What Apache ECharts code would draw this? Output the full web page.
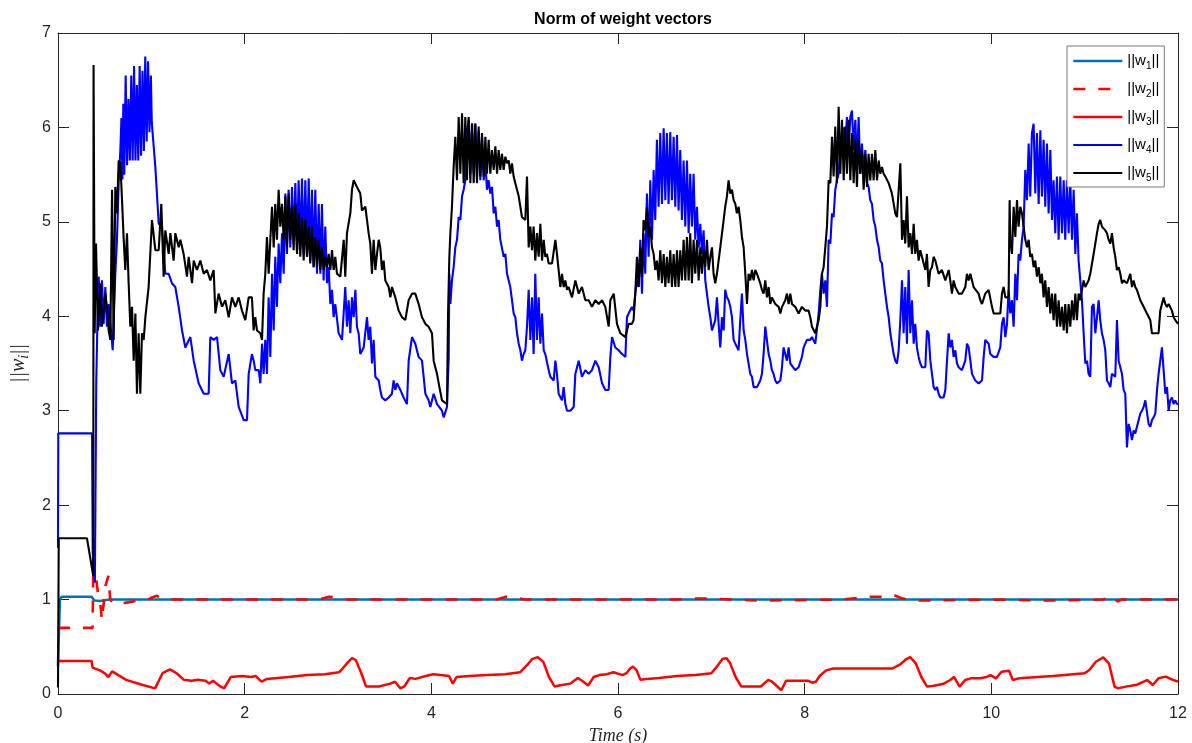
<!DOCTYPE html>
<html>
<head>
<meta charset="utf-8">
<script src="https://cdn.jsdelivr.net/npm/echarts@6/dist/echarts.min.js"></script>
<style>
  html, body { margin: 0; padding: 0; background: #fff; }
  #chart { width: 1192px; height: 743px; }
</style>
</head>
<body>
<div id="chart"></div>
<script>
// axis ticks
const xTicks = [0, 2, 4, 6, 8, 10, 12]
const yTicks = [0, 1, 2, 3, 4, 5, 6, 7]

const seriesNames = ['||w1||', '||w2||', '||w3||', '||w4||', '||w5||']

// [time (s), norm]
const w1Pts = [[0,0.3],[0.02,1.0],[0.04,1.03],[0.36,1.03],[0.39,0.99],[0.45,0.985],[0.55,1.0],[3,1.0],[6,1.0],[9,1.0],[12,1.0]]

const w2Pts = [[0,0.7],[0.37,0.7],[0.38,1.43],[0.4,1.3],[0.43,1.05],[0.45,1.0],[0.47,0.78],[0.49,0.8],[0.51,1.15],[0.54,1.25],[0.56,1.0],
  [0.6,0.95],[0.68,0.96],[0.75,0.97],[0.85,0.99],[0.95,0.99],[1.0,1.02],[1.06,1.04],[1.12,1.0],[1.5,1.0],[2.8,1.0],[2.9,1.03],[3.0,1.02],
  [3.1,1.0],[4.7,1.0],[4.8,1.03],[4.9,1.02],[5.0,1.0],[6.6,1.0],[6.8,1.01],[7.0,1.01],[7.5,0.99],[8.4,1.0],[8.7,1.03],[8.85,1.03],
  [8.95,1.05],[9.05,1.01],[9.2,0.99],[10.0,1.0],[10.6,0.99],[11.2,1.0],[11.3,1.04],[11.35,0.98],[11.4,1.0],[12,1.0]]

const w3Pts = [[0,0.35],[0.36,0.35],[0.37,0.28],[0.45,0.25],[0.5,0.22],[0.54,0.18],[0.58,0.24],[0.73,0.15],[0.89,0.1],[1.04,0.06],
  [1.06,0.05],[1.12,0.22],[1.2,0.26],[1.27,0.22],[1.35,0.15],[1.43,0.14],[1.5,0.15],[1.58,0.14],[1.62,0.11],[1.66,0.14],[1.74,0.08],
  [1.78,0.06],[1.85,0.18],[1.97,0.19],[2.07,0.18],[2.12,0.19],[2.18,0.13],[2.24,0.16],[2.47,0.18],[2.67,0.2],[2.86,0.21],[3.01,0.23],
  [3.05,0.27],[3.11,0.34],[3.15,0.38],[3.19,0.36],[3.25,0.22],[3.3,0.08],[3.36,0.08],[3.44,0.08],[3.56,0.11],[3.61,0.13],[3.67,0.06],
  [3.71,0.08],[3.77,0.17],[3.83,0.16],[3.94,0.19],[4.02,0.21],[4.1,0.2],[4.19,0.19],[4.23,0.11],[4.27,0.18],[4.41,0.19],[4.6,0.2],
  [4.79,0.21],[4.95,0.23],[5.03,0.31],[5.08,0.37],[5.14,0.39],[5.2,0.34],[5.26,0.18],[5.32,0.08],[5.37,0.09],[5.49,0.11],[5.57,0.17],
  [5.63,0.13],[5.68,0.09],[5.74,0.18],[5.8,0.2],[5.88,0.21],[5.95,0.23],[6.05,0.2],[6.09,0.22],[6.13,0.27],[6.16,0.29],[6.2,0.25],
  [6.24,0.15],[6.28,0.155],[6.44,0.17],[6.63,0.19],[6.83,0.2],[7.0,0.22],[7.06,0.29],[7.12,0.37],[7.16,0.38],[7.2,0.33],[7.26,0.18],
  [7.32,0.08],[7.41,0.08],[7.53,0.08],[7.61,0.15],[7.65,0.13],[7.69,0.095],[7.75,0.04],[7.8,0.14],[7.92,0.14],[8.04,0.14],[8.08,0.12],
  [8.12,0.13],[8.16,0.19],[8.23,0.25],[8.31,0.27],[8.5,0.27],[8.7,0.27],[8.94,0.27],[9.02,0.31],[9.09,0.37],[9.13,0.39],[9.19,0.325],
  [9.25,0.18],[9.31,0.08],[9.37,0.085],[9.48,0.105],[9.56,0.148],[9.6,0.18],[9.66,0.078],[9.72,0.148],[9.78,0.166],[9.88,0.166],
  [9.95,0.18],[9.99,0.2],[10.05,0.166],[10.11,0.236],[10.19,0.247],[10.23,0.148],[10.3,0.166],[10.66,0.19],[11.0,0.219],[11.05,0.254],
  [11.12,0.342],[11.2,0.388],[11.26,0.325],[11.32,0.078],[11.36,0.06],[11.44,0.078],[11.55,0.095],[11.67,0.148],[11.73,0.095],
  [11.79,0.166],[11.87,0.184],[11.95,0.148],[12,0.131]]

const w4Pts = [[0,1.55],[0.003,2.76],[0.365,2.76],[0.372,1.5],[0.395,1.18],[0.4,1.2],[0.41,3.3],[0.42,3.82],
  [0.436,4.42],[0.454,3.89],[0.471,4.38],[0.489,3.92],[0.507,4.31],[0.525,3.89],[0.543,4.13],[0.561,3.92],[0.586,3.64],[0.614,4.45],
  [0.632,4.81],[0.65,5.41],[0.668,5.76],[0.68,6.1],[0.69,5.45],[0.7,6.25],[0.71,5.5],[0.725,6.55],[0.74,5.6],[0.755,6.3],[0.77,5.65],
  [0.785,6.55],[0.8,5.65],[0.815,6.65],[0.83,5.65],[0.845,6.45],[0.86,5.65],[0.875,6.65],[0.89,5.7],[0.905,6.6],[0.92,5.75],[0.935,6.75],
  [0.95,5.85],[0.965,6.7],[0.98,5.95],[0.995,6.55],[1.005,6.05],[1.043,5.58],[1.079,4.98],[1.114,4.95],[1.15,4.45],[1.186,4.45],
  [1.221,4.35],[1.257,4.31],[1.293,4.1],[1.329,3.85],[1.364,3.67],[1.418,3.78],[1.454,3.53],[1.507,3.29],[1.561,3.18],[1.614,3.18],
  [1.632,3.78],[1.668,3.75],[1.704,3.78],[1.739,3.43],[1.775,3.36],[1.829,3.6],[1.864,3.29],[1.9,3.32],[1.936,3.04],[1.99,2.9],[2.025,2.9],
  [2.043,3.39],[2.078,3.6],[2.096,3.53],[2.114,3.43],[2.15,3.43],[2.168,3.29],[2.186,3.71],[2.203,3.39],[2.221,3.75],[2.239,3.39],
  [2.257,4.2],[2.275,3.57],[2.293,4.45],[2.311,3.85],[2.328,4.63],[2.346,4.1],[2.364,4.77],[2.382,4.35],[2.4,4.88],[2.418,4.45],
  [2.436,5.3],[2.453,4.66],[2.471,5.34],[2.489,4.73],[2.507,5.37],[2.525,4.77],[2.543,5.41],[2.561,4.7],[2.578,5.44],[2.596,4.73],
  [2.614,5.46],[2.632,4.66],[2.65,5.44],[2.668,4.63],[2.686,5.46],[2.703,4.59],[2.721,5.34],[2.739,4.52],[2.757,5.34],[2.775,4.45],
  [2.793,5.19],[2.811,4.45],[2.828,5.19],[2.846,4.38],[2.864,4.95],[2.882,4.35],[2.9,4.52],[2.918,4.13],[2.936,4.28],[2.953,3.99],
  [2.971,4.13],[3.007,3.82],[3.043,3.75],[3.078,4.31],[3.096,3.89],[3.114,4.17],[3.132,3.82],[3.15,4.2],[3.168,3.99],[3.186,4.28],
  [3.203,3.89],[3.221,3.82],[3.239,3.6],[3.275,3.67],[3.311,3.99],[3.328,3.75],[3.346,3.89],[3.364,3.5],[3.382,3.75],[3.4,3.36],
  [3.436,3.32],[3.453,3.22],[3.471,3.14],[3.507,3.11],[3.543,3.14],[3.578,3.18],[3.596,3.32],[3.614,3.22],[3.632,3.29],[3.668,3.22],
  [3.703,3.14],[3.739,3.07],[3.757,3.53],[3.793,3.78],[3.828,3.71],[3.864,3.57],[3.9,3.53],[3.936,3.18],[3.971,3.11],[3.989,3.04],
  [4.025,3.18],[4.061,3.07],[4.079,3.07],[4.114,3.0],[4.132,2.93],[4.168,3.04],[4.186,3.57],[4.193,4.45],[4.204,4.13],[4.221,4.38],
  [4.239,4.52],[4.257,4.73],[4.275,4.81],[4.293,5.05],[4.311,5.02],[4.329,5.27],[4.346,5.34],[4.364,5.44],[4.382,5.97],[4.4,6.08],
  [4.418,5.51],[4.436,6.04],[4.454,5.51],[4.471,6.04],[4.489,5.48],[4.507,5.97],[4.525,5.44],[4.543,5.9],[4.561,5.44],[4.579,5.65],
  [4.596,5.34],[4.614,5.44],[4.632,5.3],[4.65,5.37],[4.668,5.09],[4.686,5.16],[4.704,4.95],[4.721,5.02],[4.739,4.81],[4.757,4.81],
  [4.775,4.63],[4.793,4.66],[4.811,4.45],[4.829,4.45],[4.846,4.31],[4.864,4.17],[4.882,4.03],[4.9,3.99],[4.918,3.82],[4.936,3.71],
  [4.954,3.64],[4.971,3.53],[4.989,3.6],[5.007,3.64],[5.025,3.89],[5.043,4.28],[5.061,3.75],[5.079,4.2],[5.096,3.6],[5.114,4.45],
  [5.132,3.75],[5.15,4.2],[5.168,3.71],[5.186,4.03],[5.204,3.64],[5.221,3.6],[5.257,3.43],[5.275,3.36],[5.311,3.32],[5.329,3.53],
  [5.346,3.39],[5.364,3.18],[5.4,3.11],[5.418,3.25],[5.436,3.07],[5.454,3.0],[5.489,3.0],[5.525,3.04],[5.543,3.39],[5.561,3.46],
  [5.579,3.53],[5.614,3.36],[5.65,3.43],[5.686,3.39],[5.721,3.43],[5.757,3.53],[5.793,3.46],[5.829,3.29],[5.864,3.22],[5.9,3.22],
  [5.918,3.57],[5.936,3.78],[5.971,3.67],[6.007,3.64],[6.043,3.6],[6.079,3.57],[6.096,3.99],[6.114,4.03],[6.149,4.1],[6.167,4.06],
  [6.185,4.24],[6.203,4.38],[6.221,4.31],[6.239,4.81],[6.257,4.24],[6.274,4.88],[6.292,4.45],[6.31,5.3],[6.328,4.63],[6.346,5.44],
  [6.364,4.81],[6.382,5.55],[6.399,5.02],[6.417,5.87],[6.435,5.16],[6.453,5.94],[6.471,5.19],[6.489,5.99],[6.507,5.23],[6.524,5.94],
  [6.542,5.19],[6.56,5.95],[6.578,5.23],[6.596,5.9],[6.614,5.16],[6.632,5.92],[6.649,5.12],[6.667,5.76],[6.685,5.02],[6.703,5.65],
  [6.721,4.95],[6.739,5.65],[6.757,4.88],[6.774,5.51],[6.792,4.95],[6.81,5.51],[6.828,4.81],[6.846,5.16],[6.864,4.73],[6.882,4.98],
  [6.899,4.66],[6.917,4.91],[6.935,4.38],[6.953,4.24],[6.971,4.1],[6.989,3.99],[7.007,3.85],[7.024,3.85],[7.042,3.96],[7.06,4.2],
  [7.078,3.92],[7.096,3.67],[7.114,3.99],[7.132,3.85],[7.149,4.28],[7.167,4.2],[7.185,4.17],[7.203,4.1],[7.221,3.99],[7.239,3.75],
  [7.257,3.71],[7.292,3.64],[7.31,3.96],[7.328,4.24],[7.346,3.85],[7.364,3.75],[7.382,3.6],[7.399,3.5],[7.417,3.39],[7.435,3.36],
  [7.453,3.25],[7.489,3.25],[7.524,3.32],[7.542,3.39],[7.56,3.6],[7.578,3.89],[7.596,3.89],[7.614,3.6],[7.632,3.53],[7.649,3.43],
  [7.667,3.39],[7.685,3.32],[7.703,3.29],[7.739,3.32],[7.757,3.46],[7.774,3.67],[7.792,3.67],[7.81,3.53],[7.828,3.67],[7.846,3.5],
  [7.864,3.5],[7.899,3.43],[7.935,3.46],[7.971,3.57],[7.989,3.67],[8.024,3.75],[8.06,3.75],[8.078,3.78],[8.114,3.71],[8.15,4.03],
  [8.168,4.28],[8.185,4.45],[8.203,4.24],[8.221,4.38],[8.239,4.1],[8.257,4.81],[8.275,4.77],[8.293,5.09],[8.31,5.05],[8.328,5.34],
  [8.346,5.44],[8.364,5.51],[8.382,5.76],[8.4,5.69],[8.418,6.0],[8.435,5.8],[8.453,6.11],[8.471,5.76],[8.489,6.11],[8.507,6.18],
  [8.525,5.76],[8.543,6.08],[8.56,5.58],[8.578,6.11],[8.596,5.51],[8.614,5.83],[8.632,5.51],[8.65,5.76],[8.668,5.41],[8.685,5.37],
  [8.703,5.23],[8.721,5.19],[8.739,5.02],[8.757,4.95],[8.775,4.81],[8.793,4.73],[8.81,4.59],[8.828,4.56],[8.846,4.38],[8.864,4.24],
  [8.882,4.1],[8.9,3.99],[8.918,3.82],[8.935,3.71],[8.953,3.6],[8.971,3.53],[8.989,3.5],[9.007,3.64],[9.025,3.96],[9.043,4.38],
  [9.06,3.82],[9.078,4.31],[9.096,3.71],[9.114,4.49],[9.132,3.82],[9.15,4.17],[9.168,3.71],[9.185,3.92],[9.203,3.67],[9.221,3.57],
  [9.239,3.5],[9.257,3.46],[9.293,3.46],[9.31,3.85],[9.328,3.82],[9.346,3.53],[9.364,3.39],[9.382,3.25],[9.4,3.22],[9.418,3.25],
  [9.435,3.18],[9.453,3.14],[9.489,3.14],[9.507,3.22],[9.525,3.53],[9.543,3.82],[9.56,3.67],[9.578,3.75],[9.596,3.57],[9.614,3.64],
  [9.632,3.5],[9.65,3.46],[9.685,3.43],[9.721,3.53],[9.739,3.71],[9.757,3.67],[9.775,3.53],[9.793,3.39],[9.828,3.32],[9.864,3.29],
  [9.9,3.32],[9.918,3.57],[9.935,3.75],[9.971,3.71],[9.989,3.6],[10.025,3.57],[10.06,3.57],[10.096,3.67],[10.114,3.92],[10.132,3.99],
  [10.15,3.78],[10.168,3.92],[10.185,4.28],[10.203,4.03],[10.221,4.17],[10.239,3.89],[10.257,4.45],[10.275,4.17],[10.292,4.66],
  [10.31,4.59],[10.328,4.81],[10.346,4.95],[10.364,5.55],[10.382,5.23],[10.4,5.83],[10.417,5.27],[10.435,5.94],[10.453,6.04],
  [10.471,5.3],[10.489,5.94],[10.507,5.19],[10.525,5.97],[10.542,5.27],[10.56,5.87],[10.578,5.16],[10.596,5.83],[10.614,5.09],
  [10.632,5.76],[10.65,5.02],[10.667,5.44],[10.685,4.88],[10.703,5.48],[10.721,4.81],[10.739,5.48],[10.757,4.88],[10.775,5.44],
  [10.792,4.81],[10.81,5.44],[10.828,4.88],[10.846,5.44],[10.864,4.81],[10.882,5.34],[10.9,4.66],[10.917,5.09],[10.935,4.59],
  [10.953,4.38],[10.971,4.17],[10.989,3.82],[11.007,3.5],[11.025,3.53],[11.042,3.39],[11.06,3.36],[11.078,4.1],[11.096,4.13],
  [11.114,3.82],[11.132,3.99],[11.15,4.17],[11.167,3.96],[11.185,3.82],[11.203,3.75],[11.221,3.64],[11.239,3.32],[11.257,3.29],
  [11.275,3.25],[11.292,3.39],[11.31,3.39],[11.328,3.36],[11.346,3.96],[11.364,3.53],[11.382,3.53],[11.4,3.39],[11.417,3.22],
  [11.435,3.18],[11.453,2.61],[11.471,2.86],[11.489,2.79],[11.507,2.69],[11.525,2.79],[11.542,2.76],[11.56,2.83],[11.578,2.9],
  [11.596,2.97],[11.614,3.0],[11.632,3.04],[11.65,3.11],[11.667,3.11],[11.685,2.86],[11.703,2.83],[11.721,2.9],[11.739,2.93],
  [11.757,2.97],[11.775,3.22],[11.792,3.39],[11.81,3.53],[11.828,3.67],[11.846,3.43],[11.864,3.18],[11.882,3.25],[11.9,3.0],
  [11.917,3.11],[11.935,3.14],[11.953,3.07],[11.971,3.11],[11.989,3.07],[12,3.08]]

const w5Pts = [[0,0.07],[0.008,1.65],[0.31,1.65],[0.378,1.25],[0.381,6.66],[0.393,3.82],[0.407,4.77],[0.429,3.85],[0.454,4.35],
  [0.471,3.89],[0.507,4.24],[0.525,4.1],[0.543,3.85],[0.561,3.75],[0.579,5.34],[0.596,3.75],[0.614,5.37],[0.632,5.09],[0.65,5.65],
  [0.668,5.62],[0.686,5.23],[0.704,4.81],[0.721,4.49],[0.739,4.88],[0.757,4.35],[0.775,3.89],[0.793,4.1],[0.811,3.53],[0.829,4.03],
  [0.846,3.18],[0.864,3.82],[0.882,3.18],[0.9,3.82],[0.918,3.75],[0.936,3.99],[0.971,4.31],[1.007,5.02],[1.043,4.7],[1.079,4.7],
  [1.107,5.19],[1.132,4.42],[1.15,4.91],[1.186,4.66],[1.204,4.88],[1.239,4.59],[1.257,4.88],[1.293,4.73],[1.311,4.81],[1.346,4.66],
  [1.382,4.42],[1.4,4.63],[1.436,4.35],[1.454,4.59],[1.489,4.49],[1.525,4.59],[1.561,4.45],[1.596,4.49],[1.632,4.38],[1.668,4.49],
  [1.686,4.03],[1.721,4.24],[1.757,4.1],[1.793,4.17],[1.829,3.99],[1.864,4.2],[1.9,4.1],[1.936,4.2],[1.971,4.06],[2.007,3.96],
  [2.043,4.2],[2.078,4.2],[2.096,3.85],[2.114,3.99],[2.132,3.85],[2.168,3.82],[2.186,3.75],[2.203,4.24],[2.221,4.45],[2.239,4.84],
  [2.257,4.45],[2.275,4.81],[2.293,5.16],[2.311,4.73],[2.328,5.19],[2.346,4.81],[2.364,5.34],[2.382,4.95],[2.4,5.19],[2.418,4.81],
  [2.436,5.27],[2.453,4.73],[2.471,5.3],[2.489,4.81],[2.507,5.16],[2.525,4.7],[2.543,5.19],[2.561,4.66],[2.578,5.09],[2.596,4.63],
  [2.614,5.05],[2.632,4.59],[2.65,5.02],[2.668,4.63],[2.686,4.95],[2.703,4.56],[2.721,4.95],[2.739,4.52],[2.757,4.84],[2.775,4.52],
  [2.793,4.81],[2.811,4.49],[2.828,4.73],[2.846,4.49],[2.864,4.63],[2.882,4.52],[2.9,4.66],[2.918,4.49],[2.936,4.7],[2.953,4.49],
  [2.971,4.63],[2.989,4.45],[3.025,4.42],[3.061,4.81],[3.078,4.42],[3.096,4.88],[3.132,5.09],[3.15,5.34],[3.168,5.44],[3.203,5.37],
  [3.239,5.3],[3.257,5.12],[3.293,5.16],[3.328,4.88],[3.346,4.77],[3.364,4.45],[3.382,4.81],[3.4,4.49],[3.418,4.66],[3.436,4.81],
  [3.453,4.73],[3.471,4.49],[3.489,4.59],[3.507,4.38],[3.543,4.31],[3.561,4.2],[3.578,4.31],[3.614,4.2],[3.65,4.06],[3.686,3.99],
  [3.721,3.96],[3.757,4.17],[3.793,4.24],[3.828,4.24],[3.864,4.13],[3.9,3.99],[3.936,3.92],[3.971,3.89],[4.007,3.82],[4.025,3.53],
  [4.061,3.39],[4.079,3.29],[4.114,3.11],[4.168,3.07],[4.179,4.03],[4.193,4.63],[4.204,4.88],[4.221,5.16],[4.239,5.58],[4.257,5.9],
  [4.275,5.44],[4.293,6.11],[4.311,5.51],[4.329,6.15],[4.346,5.41],[4.364,6.11],[4.382,5.44],[4.4,6.11],[4.418,5.41],[4.436,6.04],
  [4.454,5.41],[4.471,6.04],[4.489,5.41],[4.507,6.01],[4.525,5.48],[4.543,5.94],[4.561,5.48],[4.579,5.9],[4.596,5.51],[4.614,5.87],
  [4.632,5.51],[4.65,5.76],[4.668,5.55],[4.686,5.8],[4.704,5.51],[4.721,5.76],[4.739,5.55],[4.757,5.72],[4.775,5.55],[4.793,5.69],
  [4.811,5.62],[4.829,5.65],[4.846,5.51],[4.864,5.62],[4.882,5.48],[4.9,5.41],[4.936,5.27],[4.954,5.16],[4.971,5.05],[4.989,5.05],
  [5.007,5.02],[5.025,5.48],[5.043,4.73],[5.061,4.95],[5.079,4.7],[5.096,4.95],[5.114,4.59],[5.132,4.88],[5.15,4.63],[5.168,4.98],
  [5.186,4.59],[5.204,4.81],[5.221,4.63],[5.239,4.66],[5.257,4.56],[5.293,4.56],[5.329,4.81],[5.346,4.66],[5.364,4.49],[5.382,4.31],
  [5.4,4.45],[5.418,4.31],[5.436,4.38],[5.454,4.28],[5.471,4.31],[5.507,4.2],[5.543,4.38],[5.579,4.24],[5.614,4.31],[5.65,4.17],
  [5.686,4.17],[5.721,4.1],[5.757,4.17],[5.793,4.13],[5.829,4.17],[5.864,4.1],[5.9,3.89],[5.918,4.17],[5.954,4.24],[5.971,4.24],
  [5.989,3.92],[6.025,3.82],[6.079,3.78],[6.114,3.92],[6.149,3.92],[6.167,3.96],[6.185,4.24],[6.203,4.63],[6.221,4.31],[6.239,4.73],
  [6.257,4.42],[6.274,5.02],[6.292,4.91],[6.31,5.16],[6.328,4.84],[6.346,4.95],[6.364,4.73],[6.382,4.66],[6.399,4.49],[6.417,4.59],
  [6.435,4.38],[6.453,4.7],[6.471,4.35],[6.489,4.66],[6.507,4.31],[6.524,4.63],[6.542,4.35],[6.56,4.7],[6.578,4.31],[6.596,4.66],
  [6.614,4.31],[6.632,4.7],[6.649,4.31],[6.667,4.7],[6.685,4.38],[6.703,4.81],[6.721,4.38],[6.739,4.84],[6.757,4.38],[6.774,4.88],
  [6.792,4.35],[6.81,4.81],[6.828,4.45],[6.846,4.81],[6.864,4.38],[6.882,4.73],[6.899,4.45],[6.917,4.7],[6.935,4.52],[6.953,4.81],
  [6.971,4.49],[6.989,4.63],[7.007,4.73],[7.024,4.45],[7.042,4.35],[7.06,4.45],[7.078,4.59],[7.096,4.73],[7.114,4.73],[7.132,5.02],
  [7.149,5.16],[7.167,5.27],[7.185,5.44],[7.203,5.3],[7.221,5.34],[7.239,5.23],[7.257,5.19],[7.274,5.09],[7.292,5.16],[7.31,5.02],
  [7.328,4.84],[7.346,4.73],[7.364,4.45],[7.382,4.13],[7.399,4.45],[7.417,4.38],[7.435,4.49],[7.453,4.38],[7.471,4.49],[7.489,4.45],
  [7.524,4.35],[7.542,4.28],[7.56,4.24],[7.578,4.38],[7.596,4.2],[7.614,4.31],[7.632,4.13],[7.649,4.2],[7.685,4.13],[7.721,4.1],
  [7.739,4.03],[7.757,4.1],[7.792,4.17],[7.81,4.24],[7.828,4.13],[7.846,4.24],[7.864,4.13],[7.899,4.1],[7.935,4.03],[7.971,4.1],
  [8.007,4.06],[8.042,4.06],[8.06,3.99],[8.078,3.89],[8.114,3.82],[8.15,3.96],[8.168,4.1],[8.185,4.45],[8.203,4.52],[8.221,4.73],
  [8.239,4.95],[8.257,5.44],[8.275,5.41],[8.293,5.9],[8.31,5.48],[8.328,6.01],[8.346,5.41],[8.364,6.22],[8.382,5.51],[8.4,6.08],
  [8.418,5.44],[8.435,6.01],[8.453,5.51],[8.471,6.08],[8.489,5.44],[8.507,5.94],[8.525,5.41],[8.543,5.87],[8.56,5.37],[8.578,5.87],
  [8.596,5.51],[8.614,5.76],[8.632,5.34],[8.65,5.72],[8.668,5.37],[8.685,5.72],[8.703,5.44],[8.721,5.72],[8.739,5.44],[8.757,5.76],
  [8.775,5.44],[8.793,5.65],[8.81,5.51],[8.828,5.58],[8.846,5.51],[8.864,5.48],[8.9,5.41],[8.935,5.3],[8.971,5.09],[8.989,5.05],
  [9.007,5.05],[9.025,5.62],[9.043,4.81],[9.06,5.02],[9.078,4.77],[9.096,5.27],[9.114,4.73],[9.132,4.88],[9.15,4.66],[9.168,4.98],
  [9.185,4.66],[9.203,4.81],[9.221,4.59],[9.239,4.7],[9.257,4.63],[9.275,4.56],[9.293,4.49],[9.31,4.66],[9.328,4.31],[9.346,4.49],
  [9.364,4.52],[9.382,4.63],[9.4,4.59],[9.418,4.52],[9.435,4.45],[9.471,4.49],[9.507,4.38],[9.543,4.49],[9.56,4.38],[9.578,4.24],
  [9.596,4.38],[9.614,4.31],[9.65,4.24],[9.685,4.24],[9.721,4.31],[9.739,4.45],[9.757,4.38],[9.775,4.45],[9.793,4.38],[9.81,4.31],
  [9.828,4.31],[9.864,4.24],[9.882,4.17],[9.9,4.13],[9.935,4.24],[9.971,4.28],[10.007,4.1],[10.025,4.03],[10.06,4.03],[10.096,4.03],
  [10.114,4.24],[10.132,4.31],[10.15,4.2],[10.185,4.2],[10.196,5.23],[10.203,4.81],[10.221,4.66],[10.239,5.16],[10.257,4.84],
  [10.275,5.23],[10.292,4.95],[10.31,5.16],[10.328,5.09],[10.346,4.95],[10.364,4.81],[10.382,4.73],[10.4,4.81],[10.417,4.63],
  [10.435,4.66],[10.453,4.52],[10.471,4.59],[10.489,4.42],[10.507,4.52],[10.525,4.35],[10.542,4.45],[10.56,4.2],[10.578,4.38],
  [10.596,4.1],[10.614,4.31],[10.632,4.03],[10.65,4.24],[10.667,3.96],[10.685,4.24],[10.703,3.89],[10.721,4.17],[10.739,3.89],
  [10.757,4.1],[10.775,3.85],[10.792,4.13],[10.81,3.82],[10.828,4.13],[10.846,3.89],[10.864,4.17],[10.882,3.96],[10.9,4.24],
  [10.917,3.96],[10.935,4.24],[10.953,4.17],[10.971,4.28],[10.989,4.38],[11.007,4.31],[11.025,4.31],[11.042,4.38],[11.06,4.45],
  [11.096,4.66],[11.132,4.88],[11.15,4.98],[11.167,5.02],[11.185,4.95],[11.203,4.95],[11.221,4.91],[11.239,4.88],[11.257,4.81],
  [11.275,4.77],[11.292,4.88],[11.31,4.73],[11.328,4.63],[11.346,4.49],[11.364,4.52],[11.382,4.45],[11.4,4.35],[11.417,4.38],
  [11.453,4.35],[11.489,4.45],[11.507,4.31],[11.525,4.38],[11.542,4.31],[11.56,4.28],[11.596,4.17],[11.632,4.1],[11.667,4.03],
  [11.703,3.96],[11.721,3.82],[11.792,3.82],[11.81,4.06],[11.846,4.2],[11.864,4.13],[11.882,4.1],[11.9,4.13],[11.935,4.06],
  [11.953,3.99],[11.971,3.96],[12,3.92]]

const SANS = '"Liberation Sans", Arial, Helvetica, sans-serif'
const SERIF = '"Liberation Serif", "DejaVu Serif", serif'
const AXIS_COLOR = '#262626'

var chart = echarts.init(document.getElementById('chart'), null, { renderer: 'canvas' })

function lineSeries(name, data, color, width, type) {
  return {
    name: name,
    type: 'line',
    data: data,
    xAxisIndex: 0,
    yAxisIndex: 0,
    symbol: 'none',
    showSymbol: false,
    smooth: false,
    silent: true,
    clip: true,
    lineStyle: { color: color, width: width, type: type || 'solid' },
    itemStyle: { color: color }
  }
}

function boxAxis(position, ticks, showLabel) {
  var axis = {
    type: 'value',
    position: position,
    min: ticks[0],
    max: ticks[ticks.length - 1],
    interval: ticks[1] - ticks[0],
    axisLine: { show: true, onZero: false, lineStyle: { color: AXIS_COLOR, width: 1 } },
    axisTick: { show: true, inside: true, length: 11, lineStyle: { color: AXIS_COLOR, width: 1 } },
    axisLabel: { show: showLabel, color: AXIS_COLOR, fontFamily: SANS, fontSize: 16, margin: 12 },
    splitLine: { show: false }
  }
  return axis
}

var xBottom = boxAxis('bottom', xTicks, true)
xBottom.name = 'Time (s)'
xBottom.nameLocation = 'middle'
xBottom.nameGap = 30
xBottom.nameTextStyle = { fontFamily: SERIF, fontStyle: 'italic', fontSize: 18, color: AXIS_COLOR }
var xTop = boxAxis('top', xTicks, false)

var yLeft = boxAxis('left', yTicks, true)
yLeft.axisLabel.margin = 7
yLeft.name = '||w{sub|i}||'
yLeft.nameLocation = 'middle'
yLeft.nameGap = 17
yLeft.nameRotate = 90
yLeft.nameTextStyle = {
  fontFamily: SERIF, fontStyle: 'italic', fontSize: 20, color: AXIS_COLOR, lineHeight: 24,
  rich: { sub: { fontFamily: SERIF, fontStyle: 'italic', fontSize: 14, color: AXIS_COLOR, lineHeight: 12, verticalAlign: 'bottom' } }
}
var yRight = boxAxis('right', yTicks, false)

var option = {
  animation: false,
  backgroundColor: '#ffffff',
  title: {
    text: 'Norm of weight vectors',
    left: 618,
    top: 7,
    textAlign: 'center',
    textStyle: { fontFamily: SANS, fontWeight: 'bold', fontSize: 16, color: '#000' }
  },
  grid: { left: 58, right: 14, top: 33, bottom: 49, containLabel: false, outerBoundsMode: 'none' },
  xAxis: [xBottom, xTop],
  yAxis: [yLeft, yRight],
  legend: {
    data: seriesNames,
    orient: 'vertical',
    left: 1067,
    top: 46,
    padding: [5, 5, 4, 5],
    itemGap: 8,
    itemWidth: 49,
    itemHeight: 20,
    backgroundColor: '#ffffff',
    borderColor: '#7a7a7a',
    borderWidth: 1,
    borderRadius: 0,
    selectedMode: false,
    itemStyle: { opacity: 0 },
    lineStyle: { width: 'inherit' },
    formatter: function (name) {
      return name.replace(/(\d)/, '{sub|$1}')
    },
    textStyle: {
      fontFamily: SANS, fontSize: 15, color: '#000', lineHeight: 20,
      rich: { sub: { fontFamily: SANS, fontSize: 10, color: '#000', lineHeight: 10, verticalAlign: 'bottom' } }
    }
  },
  series: [
    lineSeries(seriesNames[0], w1Pts, '#0072BD', 2.6),
    lineSeries(seriesNames[1], w2Pts, '#FF0000', 2.6, [12, 13]),
    lineSeries(seriesNames[2], w3Pts, '#FF0000', 2.5),
    lineSeries(seriesNames[3], w4Pts, '#0000FF', 2.1),
    lineSeries(seriesNames[4], w5Pts, '#000000', 2.1)
  ]
}

chart.setOption(option)
</script>
</body>
</html>
